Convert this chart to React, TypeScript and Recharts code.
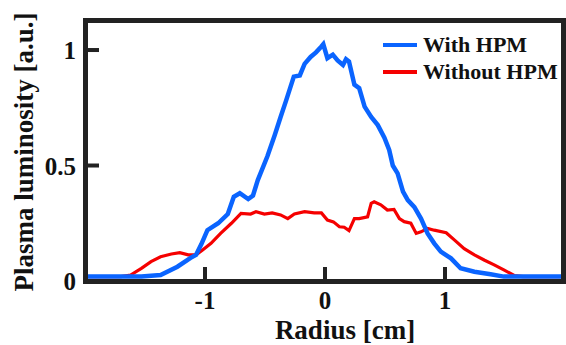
import React from "react";
import { LineChart, Line, XAxis, YAxis } from "recharts";

const xTicks = [-1, 0, 1];
const yTicks = [0, 0.5, 1];

// With HPM (blue)
const withX = [-2, -1.53, -1.37, -1.23, -1.12, -1.075, -1.03, -0.98, -0.89, -0.81, -0.76, -0.71, -0.64, -0.6, -0.56, -0.48, -0.42, -0.37, -0.325, -0.26, -0.21, -0.17, -0.12, -0.075, -0.03, -0.014, 0.02, 0.065, 0.105, 0.15, 0.175, 0.2, 0.245, 0.285, 0.33, 0.385, 0.44, 0.495, 0.535, 0.565, 0.605, 0.65, 0.69, 0.745, 0.8, 0.855, 0.91, 0.965, 1.05, 1.13, 1.245, 1.38, 1.49, 2];
const withY = [0.019, 0.019, 0.026, 0.062, 0.1, 0.113, 0.16, 0.22, 0.25, 0.29, 0.365, 0.38, 0.355, 0.37, 0.437, 0.54, 0.63, 0.71, 0.78, 0.885, 0.89, 0.94, 0.97, 0.99, 1.015, 1.025, 0.965, 0.98, 0.955, 0.935, 0.96, 0.95, 0.85, 0.835, 0.755, 0.71, 0.675, 0.62, 0.567, 0.5, 0.466, 0.387, 0.35, 0.32, 0.27, 0.206, 0.163, 0.127, 0.098, 0.055, 0.04, 0.029, 0.019, 0.019];

// Without HPM (red)
const withoutX = [-2, -1.7, -1.62, -1.53, -1.45, -1.37, -1.28, -1.21, -1.14, -1.075, -1.02, -0.95, -0.87, -0.78, -0.7, -0.62, -0.575, -0.505, -0.44, -0.37, -0.31, -0.255, -0.17, -0.09, -0.03, 0.02, 0.07, 0.12, 0.16, 0.2, 0.245, 0.285, 0.355, 0.385, 0.41, 0.465, 0.52, 0.575, 0.62, 0.66, 0.715, 0.76, 0.8, 0.855, 0.91, 1.01, 1.08, 1.16, 1.245, 1.33, 1.41, 1.49, 1.58, 1.65, 2];
const withoutY = [0.019, 0.019, 0.026, 0.055, 0.084, 0.105, 0.117, 0.123, 0.113, 0.113, 0.134, 0.163, 0.206, 0.25, 0.293, 0.29, 0.3, 0.29, 0.295, 0.286, 0.27, 0.29, 0.3, 0.295, 0.295, 0.264, 0.256, 0.235, 0.233, 0.218, 0.27, 0.27, 0.278, 0.336, 0.343, 0.33, 0.307, 0.31, 0.27, 0.257, 0.25, 0.206, 0.213, 0.228, 0.22, 0.209, 0.177, 0.14, 0.113, 0.09, 0.07, 0.048, 0.023, 0.019, 0.019];

const withData = withX.map((x, i) => ({ r: x, v: withY[i] }));
const withoutData = withoutX.map((x, i) => ({ r: x, v: withoutY[i] }));

const BLUE = "#0a64ff";
const RED = "#f50000";
const TEXT_COLOR = "#111111";
const FONT = "'Liberation Serif', 'Times New Roman', serif";

const series = [
  { name: "With HPM", color: BLUE },
  { name: "Without HPM", color: RED },
];

function XTick(props: any) {
  const { x, y, payload } = props;
  return (
    <g>
      <rect x={x - 2} y={y - 14} width={4} height={14} fill="#222" />
      <text x={x} y={y + 28} textAnchor="middle" fontFamily={FONT} fontWeight="bold" fontSize={25} fill={TEXT_COLOR}>
        {payload.value}
      </text>
    </g>
  );
}

function YTick(props: any) {
  const { x, y, payload } = props;
  return (
    <g>
      {payload.value !== 0 && <rect x={x} y={y - 2} width={14} height={4} fill="#222" />}
      <text x={x - 9} y={y + 9} textAnchor="end" fontFamily={FONT} fontWeight="bold" fontSize={25} fill={TEXT_COLOR}>
        {payload.value}
      </text>
    </g>
  );
}

function LegendBox() {
  return (
    <div
      style={{
        position: "absolute",
        top: 31,
        left: 383,
        zIndex: 3,
        fontFamily: FONT,
        fontWeight: "bold",
        fontSize: 22,
        color: TEXT_COLOR,
      }}
    >
      {series.map((s) => (
        <div key={s.name} style={{ display: "flex", alignItems: "center", height: 27 }}>
          <div style={{ width: 34, height: 4, background: s.color, marginRight: 6 }} />
          <span style={{ lineHeight: "27px", whiteSpace: "nowrap" }}>{s.name}</span>
        </div>
      ))}
    </div>
  );
}

export default function App() {
  return (
    <div style={{ position: "absolute", left: 0, top: 0, width: 566, height: 345, background: "#fff" }}>
      <div
        style={{
          position: "absolute",
          left: 83,
          top: 18,
          width: 483,
          height: 266,
          boxSizing: "border-box",
          border: "5px solid #222",
          zIndex: 2,
        }}
      />
      <div style={{ position: "absolute", left: 0, top: 0, zIndex: 1 }}>
        <LineChart width={566} height={345} data={withData} margin={{ top: 20, right: 1, bottom: 0, left: 0 }}>
          <XAxis
            dataKey="r"
            type="number"
            domain={[-2, 2]}
            ticks={xTicks}
            stroke="#222"
            tickSize={0}
            tickMargin={0}
            height={64}
            tick={<XTick />}
            label={{
              content: () => (
                <text x={345} y={339} textAnchor="middle" fontFamily={FONT} fontWeight="bold" fontSize={27} fill={TEXT_COLOR}>
                  Radius [cm]
                </text>
              ),
            }}
          />
          <YAxis
            type="number"
            domain={[0, 1.13]}
            ticks={yTicks}
            stroke="#222"
            tickSize={0}
            tickMargin={0}
            width={85}
            tick={<YTick />}
            label={{
              content: () => (
                <text
                  x={33}
                  y={152}
                  transform="rotate(-90 33 152)"
                  textAnchor="middle"
                  fontFamily={FONT}
                  fontWeight="bold"
                  fontSize={27}
                  fill={TEXT_COLOR}
                >
                  Plasma luminosity [a.u.]
                </text>
              ),
            }}
          />
          <Line
            data={withoutData}
            dataKey="v"
            name="Without HPM"
            type="linear"
            stroke={RED}
            strokeWidth={3.2}
            dot={false}
            isAnimationActive={false}
          />
          <Line
            data={withData}
            dataKey="v"
            name="With HPM"
            type="linear"
            stroke={BLUE}
            strokeWidth={4.5}
            dot={false}
            isAnimationActive={false}
          />
        </LineChart>
      </div>
      <LegendBox />
    </div>
  );
}
